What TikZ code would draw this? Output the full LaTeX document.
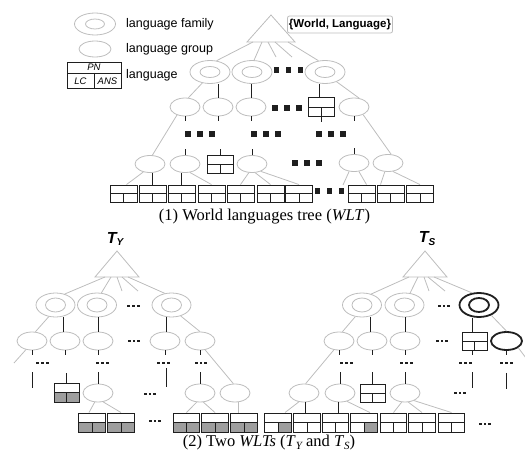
\documentclass[tikz,border=0pt]{standalone}
\usepackage{fontspec}
\setmainfont{Liberation Serif}
\setsansfont{Liberation Sans}
\usetikzlibrary{shapes.geometric}
\definecolor{lg}{gray}{0.74}
\definecolor{dk}{gray}{0.12}
\definecolor{bf}{gray}{0.62}
\newcommand\lgfont{\sffamily\fontsize{12.5}{14}\selectfont}
\newcommand\lbfont{\sffamily\itshape\fontsize{9.5}{10}\selectfont}
\newcommand\capfont{\rmfamily\fontsize{16.5}{18}\selectfont}
\newcommand\subsc[1]{\raisebox{-0.35ex}{\fontsize{11}{11}\selectfont\itshape #1}}
\newcommand\famnode[3]{\node[#3] (#1) at (#2) {}; \node[#3in] (#1i) at (#1.center) {};}
\newcommand\bigdots[2]{\coordinate (#1) at (#2); \foreach \dd in {-12,0,12}{\fill[dk] ([xshift=\dd pt]#1) +(-2.7pt,-2.7pt) rectangle +(2.7pt,2.7pt);}}
\newcommand\smdots[2]{\coordinate (#1) at (#2); \foreach \dd in {-4.8,0,4.8}{\fill[dk] ([xshift=\dd pt]#1) +(-1.4pt,-1.4pt) rectangle +(1.4pt,1.4pt);}}
\newcommand\divlines{\draw[dk, line width=0.9pt] (path picture bounding box.west) -- (path picture bounding box.east) (path picture bounding box.center) -- (path picture bounding box.south);}
\tikzset{
 lgl/.style={draw=lg, line width=0.8pt},
 dkl/.style={draw=dk, line width=1pt},
 famA/.style={ellipse, draw=lg, line width=0.8pt, inner sep=0pt, minimum width=40pt, minimum height=23pt},
 famAin/.style={ellipse, draw=lg, line width=0.8pt, inner sep=0pt, minimum width=20pt, minimum height=11pt},
 famB/.style={famA, minimum width=39pt, minimum height=24pt},
 famBin/.style={famAin, minimum width=20pt, minimum height=14pt},
 famC/.style={famB, draw=dk, line width=1.8pt},
 famCin/.style={famBin, draw=dk, line width=1.8pt},
 famL/.style={famA, minimum width=41pt, minimum height=22pt},
 famLin/.style={famAin, minimum width=19pt, minimum height=10pt},
 grp/.style={ellipse, draw=lg, line width=0.8pt, inner sep=0pt, minimum width=30pt, minimum height=18pt},
 grpC/.style={grp, draw=dk, line width=1.8pt, minimum width=31pt},
 lbox/.style={rectangle, draw=dk, line width=0.9pt, inner sep=0pt, minimum width=27pt, minimum height=17pt, path picture={\divlines}},
 lboxG/.style={rectangle, draw=dk, line width=0.9pt, inner sep=0pt, minimum width=26.5pt, minimum height=19pt, path picture={\fill[bf] (path picture bounding box.west) rectangle (path picture bounding box.south east); \divlines}},
 lboxR/.style={rectangle, draw=dk, line width=0.9pt, inner sep=0pt, minimum width=26.5pt, minimum height=19pt, path picture={\fill[bf] (path picture bounding box.center) rectangle (path picture bounding box.south east); \divlines}},
 bsz/.style={minimum width=26.5pt, minimum height=19pt},
 legbox/.style={rectangle, draw=dk, line width=0.9pt, inner sep=0pt, minimum width=54pt, minimum height=26pt, path picture={\draw[dk, line width=0.9pt] ([yshift=-11pt]path picture bounding box.north west) -- ([yshift=-11pt]path picture bounding box.north east) ([yshift=-11pt]path picture bounding box.north) -- (path picture bounding box.south);}},
 txt/.style={inner sep=0pt},
}
\begin{document}
\begin{tikzpicture}[x=1pt,y=-1pt]
\useasboundingbox (0,0) rectangle (525,452);
% ---------- legend ----------
\famnode{Lf}{95,24}{famL}
\node[grp, minimum width=32pt, minimum height=16pt] (Lg) at (95,49) {};
\node[legbox] (Lb) at (94,75) {};
\node[txt, font=\lbfont] (Lpn) at (94,67.5) {PN};
\node[txt, font=\lbfont] (Llc) at (80.5,81.5) {LC};
\node[txt, font=\lbfont] (Lans) at (107.5,81.5) {ANS};
\node[txt, anchor=west, font=\lgfont] (t1) at (126,24) {language family};
\node[txt, anchor=west, font=\lgfont] (t2) at (126,49) {language group};
\node[txt, anchor=west, font=\lgfont] (t3) at (126,75) {language};
% ---------- top tree ----------
\draw[lgl] (271,15) -- (295,42) -- (247,42) -- cycle;
\node[draw=lg, rounded corners=2pt, line width=0.8pt, font=\sffamily\bfseries\fontsize{11.5}{13}\selectfont, inner xsep=1.5pt, inner ysep=0pt, minimum height=17pt] (root) at (340,24.5) {\{World, Language\}};
\coordinate (r1) at (253,42); \coordinate (r2) at (262,42); \coordinate (r3) at (268,42);
\coordinate (r4) at (275,42); \coordinate (r5) at (288,42);
\coordinate (s1) at (276,57); \coordinate (s2) at (292,57);
\famnode{F1}{210,72}{famA} \famnode{F2}{252,72}{famA} \famnode{F3}{325,72}{famA}
\bigdots{d1}{288.5,70}
\node[grp] (G1) at (185,107) {};
\node[grp] (G2) at (218,107) {};
\node[grp] (G3) at (251,107) {};
\node[lbox, minimum width=26pt, minimum height=19pt] (B1) at (321,107) {};
\node[grp] (G4) at (354,107) {};
\bigdots{d2}{287,108}
\bigdots{d3}{200,134} \bigdots{d4}{266,134} \bigdots{d5}{331,134}
\node[grp, minimum height=17pt] (H1) at (150,164) {};
\node[grp, minimum height=17pt] (H2) at (185,164) {};
\node[lbox, minimum width=26pt, minimum height=18pt] (B2) at (220,164) {};
\node[grp, minimum height=17pt] (H3) at (252,164) {};
\node[grp, minimum height=17pt] (H4) at (354,163) {};
\node[grp, minimum height=17pt] (H5) at (388,163) {};
\bigdots{d6}{307,163}
\foreach \n/\x in {1/123.5,2/152.5,3/181.5,4/211.5,5/240.5,6/270.5,7/299,8/361.5,9/390.5,10/420}
  \node[lbox] (W\n) at (\x,193.5) {};
\bigdots{d7}{329.5,191}
\coordinate (c1) at (343,185);
\draw[lgl] (r1) -- (F1.60) (r2) -- (F2.80) (r3) -- (s1) (r4) -- (s2) (r5) -- (F3.120);
\draw[lgl] (F1.235) -- (G1.70);
\draw[dkl] (G2.north) -- (G2.north |- F1.south);
\draw[dkl] (G3.north) -- (G3.north |- F2.south);
\draw[dkl] ([xshift=-2pt]B1.north) -- ([xshift=-2pt]B1.north |- F3.south);
\draw[lgl] (F3.320) -- (G4.60);
\foreach \g in {G1,G2,G3,B1,G4} \draw[dkl] (\g.south) -- ++(0,5);
\foreach \g in {H2,B2,H3,H4} \draw[dkl] (\g.north) -- ++(0,-6);
\draw[lgl] (G1.225) -- (H1.75);
\draw[lgl] (G4.320) -- (H5.70);
\draw[lgl] (H1.230) -- ([xshift=3pt]W1.north);
\draw[dkl] (W2.north) -- (W2.north |- H1.south);
\draw[dkl] (W3.north) -- (W3.north |- H2.south);
\draw[lgl] (H2.300) -- (W4.north);
\draw[lgl] (H3.250) -- (W5.north) (H3.290) -- (W6.north) (H3.320) -- (W7.north);
\draw[lgl] (H4.240) -- (c1) (H4.300) -- ([xshift=5pt]W8.north);
\draw[lgl] (H5.250) -- ([xshift=-10pt]W9.north) (H5.300) -- (W10.north);
\node[txt, font=\capfont] (cap1) at (264.5,217) {(1) World languages tree (\textit{WLT})};
% ---------- T_Y ----------
\node[txt, font=\sffamily\bfseries\itshape\fontsize{16}{16}\selectfont] (TY) at (115,239) {T\raisebox{-0.35ex}{\fontsize{10}{10}\selectfont Y}};
\draw[lgl] (117,251) -- (139,277) -- (95,277) -- cycle;
\coordinate (y1) at (105,277); \coordinate (y2) at (111,277); \coordinate (y3) at (117,277);
\coordinate (y4) at (122,277); \coordinate (y5) at (128,277);
\coordinate (ys1) at (122,291); \coordinate (ys2) at (138,291);
\famnode{YF1}{55.5,305}{famB} \famnode{YF2}{97,305}{famB} \famnode{YF3}{171.5,305}{famB}
\smdots{yd1}{133.5,306}
\node[grp] (YG1) at (32,341) {};
\node[grp] (YG2) at (65,341) {};
\node[grp] (YG3) at (98,341) {};
\node[grp] (YG4) at (165,341) {};
\node[grp] (YG5) at (200,341) {};
\smdots{yd2}{134,341}
\smdots{yd3}{42.5,363} \smdots{yd4}{102.5,363} \smdots{yd5}{163.5,363} \smdots{yd6}{201,363}
\node[lboxG, minimum width=25pt] (YB1) at (66.5,392.5) {};
\node[grp] (YH1) at (98,393) {};
\node[grp] (YH2) at (200,393) {};
\node[grp] (YH3) at (235,393) {};
\smdots{yd7}{150,394}
\foreach \n/\x in {2/92,3/121,4/186.5,5/215,6/244}
  \node[lboxG] (YB\n) at (\x,422.5) {};
\smdots{yd8}{155,421}
\coordinate (yl) at (14,363);
\draw[lgl] (y1) -- (YF1.50) (y2) -- (YF2.70) (y3) -- (ys1) (y4) -- (ys2) (y5) -- (YF3.120);
\draw[lgl] (YF1.240) -- (YG1.70);
\draw[dkl] ([xshift=-2pt]YG2.north) -- ([xshift=-2pt]YG2.north |- YF1.south);
\draw[dkl] (YG3.north) -- (YG3.north |- YF2.south);
\draw[dkl] ([xshift=1pt]YG4.north) -- ([xshift=1pt]YG4.north |- YF3.south);
\draw[lgl] (YF3.310) -- (YG5.north);
\foreach \g in {YG1,YG2,YG3,YG4,YG5} \draw[dkl] (\g.south) -- ++(0,5);
\draw[lgl] (YG1.235) -- (yl);
\draw[dkl] (YG1.south) ++(0,22) -- ++(0,16);
\draw[dkl] ([xshift=1pt]YG4.south) ++(0,18) -- ++(0,19);
\draw[dkl] (YB1.north) -- ++(0,-10);
\draw[dkl] (YH1.north) -- ++(0,-12);
\draw[dkl] (YH2.north) -- ++(0,-12);
\draw[lgl] (YG5.300) -- (YH3.100);
\draw[lgl] (YH1.250) -- ([xshift=-3pt]YB2.north) (YH1.300) -- (YB3.north);
\draw[lgl] (YH2.250) -- (YB4.north) (YH2.290) -- (YB5.north);
\draw[lgl] (YH3.290) -- (YH3.290 |- YB6.north);
\node[txt, font=\capfont] (cap2) at (269,443) {(2) Two \textit{WLTs} (\textit{T}\subsc{Y} and \textit{T}\subsc{S})};
% ---------- T_S ----------
\node[txt, font=\sffamily\bfseries\itshape\fontsize{16}{16}\selectfont] (TS) at (427,239) {T\raisebox{-0.35ex}{\fontsize{10}{10}\selectfont S}};
\draw[lgl] (425,251) -- (447,277) -- (403,277) -- cycle;
\coordinate (z1) at (409,277); \coordinate (z2) at (418,277); \coordinate (z3) at (424,277);
\coordinate (z4) at (428,277); \coordinate (z5) at (434,277);
\coordinate (zs1) at (429,291); \coordinate (zs2) at (445,291);
\famnode{SF1}{362,305}{famB} \famnode{SF2}{404.5,305}{famB} \famnode{SF3}{479,305}{famC}
\smdots{sd1}{444,306}
\node[grp] (SG1) at (339,341) {};
\node[grp] (SG2) at (372,341) {};
\node[grp] (SG3) at (405,341) {};
\node[lbox, minimum width=25pt, minimum height=18pt] (SB1) at (474.5,341) {};
\node[grpC] (SG4) at (506.5,341) {};
\smdots{sd2}{442,341}
\smdots{sd3}{346.5,363} \smdots{sd4}{406.5,363} \smdots{sd5}{465.5,363} \smdots{sd6}{506.5,363}
\node[grp] (SH1) at (304,393) {};
\node[grp] (SH2) at (340,393) {};
\node[lbox, minimum width=25pt, minimum height=18pt] (SB2) at (372.5,393) {};
\node[grp] (SH3) at (405,393) {};
\smdots{sd7}{460,393}
\foreach \n/\x/\s in {3/278/lboxR,4/307/lbox,5/335.5/lbox,6/364/lboxR,7/393.5/lbox,8/422/lbox,9/451.5/lbox}
  \node[\s, bsz] (SB\n) at (\x,422.5) {};
\smdots{sd8}{485,424}
\coordinate (zr) at (526,358);
\draw[lgl] (z1) -- (SF1.50) (z2) -- (SF2.65) (z3) -- (zs1) (z4) -- (zs2) (z5) -- (SF3.120);
\draw[lgl] (SF1.240) -- (SG1.70);
\draw[dkl] ([xshift=-2pt]SG2.north) -- ([xshift=-2pt]SG2.north |- SF1.south);
\draw[dkl] (SG3.north) -- (SG3.north |- SF2.south);
\draw[dkl] ([xshift=-2.5pt]SB1.north) -- ([xshift=-2.5pt]SB1.north |- SF3.south);
\draw[lgl] (SF3.320) -- (SG4.north);
\draw[lgl] (SG4.330) -- (zr);
\draw[dkl] (SG1.south) -- ++(0,5);
\draw[dkl] (SG2.south) -- ++(0,5);
\draw[dkl] (SG3.south) -- ++(0,5);
\draw[dkl] ([xshift=-2.5pt]SB1.south) -- ++(0,5);
\draw[dkl] (SG4.south) -- ++(0,4);
\draw[lgl] (SG1.240) -- (SH1.80);
\draw[dkl] (SH2.north) -- ++(0,-12);
\draw[dkl] (SB2.north) -- ++(0,-12);
\draw[dkl] (SH3.north) -- ++(0,-12);
\draw[dkl] ([xshift=-2.5pt]SB1.south) ++(0,22) -- ++(0,16);
\draw[dkl] (SG4.south) ++(0,22) -- ++(0,16);
\draw[lgl] (SH1.240) -- ([xshift=7pt]SB3.north);
\draw[dkl] ([xshift=-1.5pt]SB4.north) -- ([xshift=-1.5pt]SB4.north |- SH1.south);
\draw[dkl] ([xshift=3pt]SB5.north) -- ([xshift=3pt]SB5.north |- SH2.south);
\draw[lgl] (SH2.310) -- ([xshift=6pt]SB6.north);
\draw[lgl] (SH3.250) -- (SB7.north) (SH3.290) -- (SB8.north) (SH3.320) -- (SB9.north);
\end{tikzpicture}
\end{document}
